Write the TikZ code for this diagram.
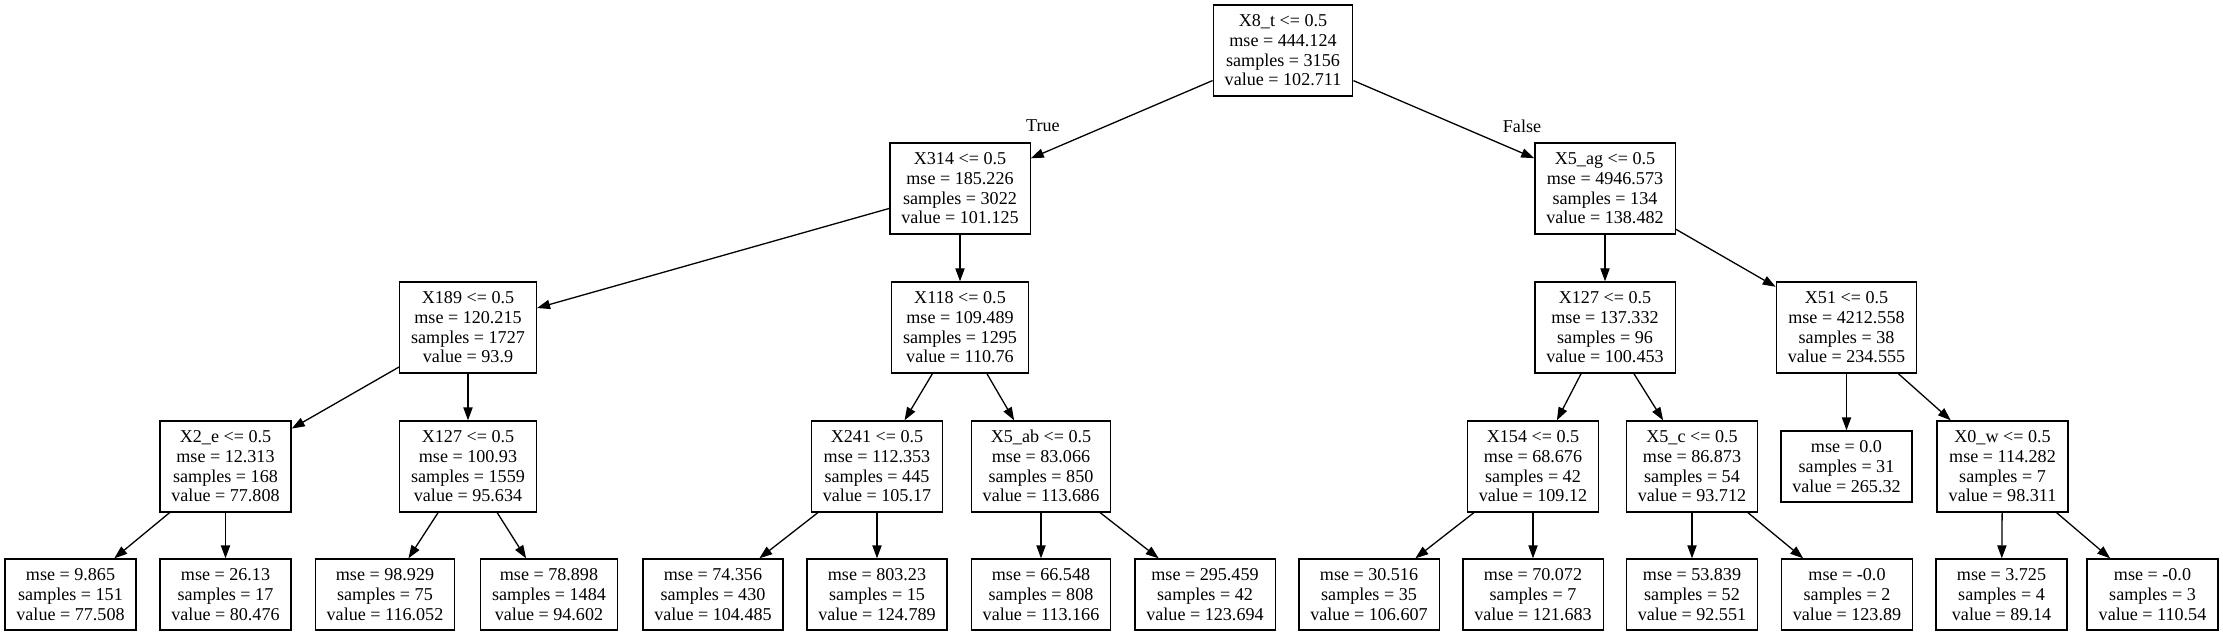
\documentclass[tikz,border=0pt]{standalone}
\usepackage{fontspec}
\setmainfont{Liberation Serif}
\usetikzlibrary{arrows.meta}
\newcommand\ls{\rule[-2.1pt]{0pt}{9.9pt}}
\begin{document}
\begin{tikzpicture}[x=0.5pt,y=-0.5pt,
  every node/.style={font=\fontsize{9.05pt}{9.9pt}\selectfont},
  split/.style={draw, line width=0.65pt, align=center, inner xsep=5.75pt, inner ysep=0pt, minimum width=65.5pt, minimum height=45.5pt},
  leaf/.style={split, minimum height=35.5pt},
  edge/.style={-{Triangle[length=6.5pt,width=4.6pt]}, line width=0.65pt},
  elabel/.style={inner sep=0pt}]
\useasboundingbox (0,0) rectangle (2223,636);
% level 0
\node[split] (n0) at (1283,50.5) {\ls X8\_t <= 0.5\\\ls mse = 444.124\\\ls samples = 3156\\\ls value = 102.711};
% level 1
\node[split] (n1) at (960,188.5) {\ls X314 <= 0.5\\\ls mse = 185.226\\\ls samples = 3022\\\ls value = 101.125};
\node[split] (n2) at (1605,188.5) {\ls X5\_ag <= 0.5\\\ls mse = 4946.573\\\ls samples = 134\\\ls value = 138.482};
% level 2
\node[split] (n3) at (468,327.5) {\ls X189 <= 0.5\\\ls mse = 120.215\\\ls samples = 1727\\\ls value = 93.9};
\node[split] (n4) at (960,327.5) {\ls X118 <= 0.5\\\ls mse = 109.489\\\ls samples = 1295\\\ls value = 110.76};
\node[split] (n5) at (1605,327.5) {\ls X127 <= 0.5\\\ls mse = 137.332\\\ls samples = 96\\\ls value = 100.453};
\node[split] (n6) at (1846.5,327.5) {\ls X51 <= 0.5\\\ls mse = 4212.558\\\ls samples = 38\\\ls value = 234.555};
% level 3
\node[split] (n7) at (225.5,466.5) {\ls X2\_e <= 0.5\\\ls mse = 12.313\\\ls samples = 168\\\ls value = 77.808};
\node[split] (n8) at (468,466.5) {\ls X127 <= 0.5\\\ls mse = 100.93\\\ls samples = 1559\\\ls value = 95.634};
\node[split] (n9) at (877,466.5) {\ls X241 <= 0.5\\\ls mse = 112.353\\\ls samples = 445\\\ls value = 105.17};
\node[split] (n10) at (1041,466.5) {\ls X5\_ab <= 0.5\\\ls mse = 83.066\\\ls samples = 850\\\ls value = 113.686};
\node[split] (n11) at (1533,466.5) {\ls X154 <= 0.5\\\ls mse = 68.676\\\ls samples = 42\\\ls value = 109.12};
\node[split] (n12) at (1692,466.5) {\ls X5\_c <= 0.5\\\ls mse = 86.873\\\ls samples = 54\\\ls value = 93.712};
\node[leaf] (n13) at (1846.5,466.5) {\ls mse = 0.0\\\ls samples = 31\\\ls value = 265.32};
\node[split] (n14) at (2002.5,466.5) {\ls X0\_w <= 0.5\\\ls mse = 114.282\\\ls samples = 7\\\ls value = 98.311};
% level 4
\node[leaf] (l1) at (70.5,594.5) {\ls mse = 9.865\\\ls samples = 151\\\ls value = 77.508};
\node[leaf] (l2) at (225.5,594.5) {\ls mse = 26.13\\\ls samples = 17\\\ls value = 80.476};
\node[leaf] (l3) at (385,594.5) {\ls mse = 98.929\\\ls samples = 75\\\ls value = 116.052};
\node[leaf] (l4) at (549,594.5) {\ls mse = 78.898\\\ls samples = 1484\\\ls value = 94.602};
\node[leaf] (l5) at (713,594.5) {\ls mse = 74.356\\\ls samples = 430\\\ls value = 104.485};
\node[leaf] (l6) at (877,594.5) {\ls mse = 803.23\\\ls samples = 15\\\ls value = 124.789};
\node[leaf] (l7) at (1041,594.5) {\ls mse = 66.548\\\ls samples = 808\\\ls value = 113.166};
\node[leaf] (l8) at (1205,594.5) {\ls mse = 295.459\\\ls samples = 42\\\ls value = 123.694};
\node[leaf] (l9) at (1369,594.5) {\ls mse = 30.516\\\ls samples = 35\\\ls value = 106.607};
\node[leaf] (l10) at (1533,594.5) {\ls mse = 70.072\\\ls samples = 7\\\ls value = 121.683};
\node[leaf] (l11) at (1692,594.5) {\ls mse = 53.839\\\ls samples = 52\\\ls value = 92.551};
\node[leaf] (l12) at (1847,594.5) {\ls mse = -0.0\\\ls samples = 2\\\ls value = 123.89};
\node[leaf] (l13) at (2001.5,594.5) {\ls mse = 3.725\\\ls samples = 4\\\ls value = 89.14};
\node[leaf] (l14) at (2152.5,594.5) {\ls mse = -0.0\\\ls samples = 3\\\ls value = 110.54};
% edge labels
\node[elabel] (tl) at (1043,126) {True};
\node[elabel] (fl) at (1522,126) {False};
% edges
\draw[edge] (n0) -- (n1);
\draw[edge] (n0) -- (n2);
\draw[edge] (n1) -- (n3);
\draw[edge] (n1) -- (n4);
\draw[edge] (n2) -- (n5);
\draw[edge] (n2) -- (n6);
\draw[edge] (n3) -- (n7);
\draw[edge] (n3) -- (n8);
\draw[edge] (n4) -- (n9);
\draw[edge] (n4) -- (n10);
\draw[edge] (n5) -- (n11);
\draw[edge] (n5) -- (n12);
\draw[edge] (n6) -- (n13);
\draw[edge] (n6) -- (n14);
\draw[edge] (n7) -- (l1);
\draw[edge] (n7) -- (l2);
\draw[edge] (n8) -- (l3);
\draw[edge] (n8) -- (l4);
\draw[edge] (n9) -- (l5);
\draw[edge] (n9) -- (l6);
\draw[edge] (n10) -- (l7);
\draw[edge] (n10) -- (l8);
\draw[edge] (n11) -- (l9);
\draw[edge] (n11) -- (l10);
\draw[edge] (n12) -- (l11);
\draw[edge] (n12) -- (l12);
\draw[edge] (n14) -- (l13);
\draw[edge] (n14) -- (l14);
\end{tikzpicture}
\end{document}
